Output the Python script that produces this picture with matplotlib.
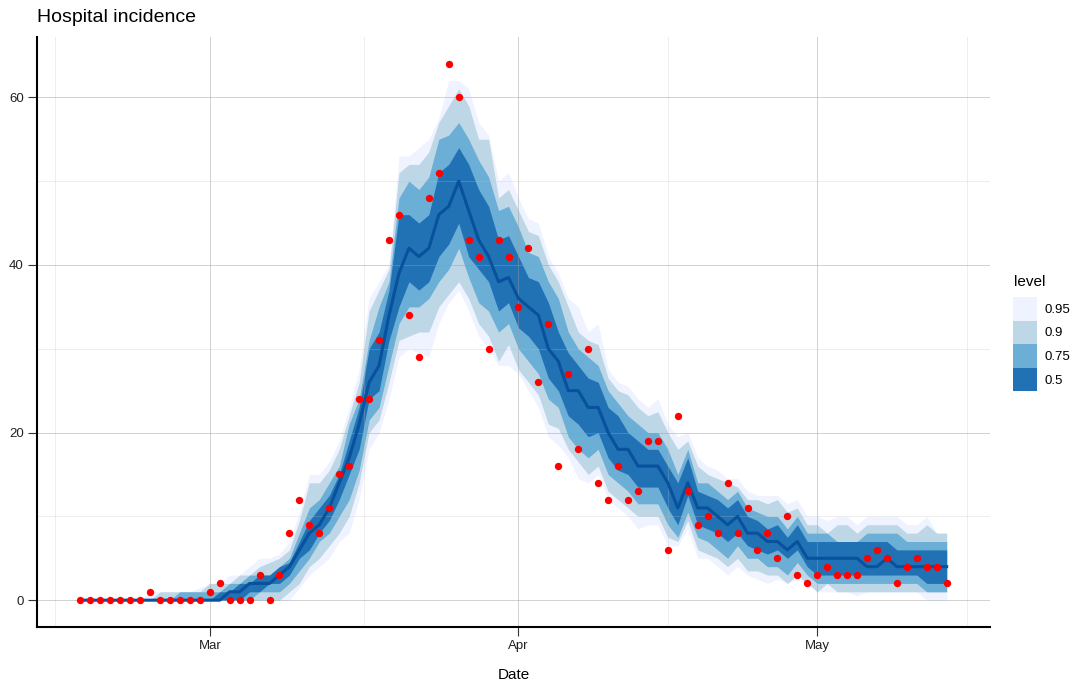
import matplotlib
matplotlib.use('Agg')
import matplotlib.pyplot as plt
import matplotlib.dates as mdates
from matplotlib.patches import Patch
import numpy as np
import pandas as pd

plt.rcParams['font.family'] = ['Liberation Sans', 'DejaVu Sans']

# daily observed hospital admissions
obs = [0, 0, 0, 0, 0, 0, 0, 1, 0, 0,
       0, 0, 0, 1, 2, 0, 0, 0, 3, 0,
       3, 8, 12, 9, 8, 11, 15, 16, 24, 24,
       31, 43, 46, 34, 29, 48, 51, 64, 60, 43,
       41, 30, 43, 41, 35, 42, 26, 33, 16, 27,
       18, 30, 14, 12, 16, 12, 13, 19, 19, 6,
       22, 13, 9, 10, 8, 14, 8, 11, 6, 8,
       5, 10, 3, 2, 3, 4, 3, 3, 3, 5,
       6, 5, 2, 4, 5, 4, 4, 2]

# forecast median and interval bounds
median = [0, 0, 0, 0, 0, 0, 0, 0, 0, 0,
          0, 0, 0, 0, 0, 1, 1, 2, 2, 2,
          3, 4, 6, 8, 9, 11, 14, 17, 21, 26,
          28, 34, 39, 42, 41, 42, 46, 47, 50, 46.5,
          43, 41, 38, 38.5, 36, 35, 34, 30, 28.5, 25,
          25, 23, 23, 20, 18, 18, 16, 16, 16, 14,
          11, 14, 11, 11, 10, 9, 10, 8, 8, 7,
          7, 6, 7, 5, 5, 5, 5, 5, 5, 4,
          4, 5, 4, 4, 4, 4, 4, 4]

lo50 = [0, 0, 0, 0, 0, 0, 0, 0, 0, 0,
        0, 0, 0, 0, 0, 0, 0, 1, 1, 2,
        2, 3, 5, 6, 8, 9.5, 12, 15, 18, 24,
        25, 31, 35, 38, 37, 38, 41, 42.5, 45, 41,
        39.5, 38, 34.5, 35.5, 32.5, 31.5, 30, 26.5, 25, 22,
        21, 19.5, 20, 17, 15.5, 15, 13.5, 13.5, 13.5, 11,
        9, 12.5, 9, 8.5, 8, 7, 8, 6.5, 6, 5.5,
        6, 5, 6, 4, 3, 3, 3, 3, 3, 3,
        3, 3, 3, 3, 3, 2, 2, 2]
hi50 = [0, 0, 0, 0, 0, 0, 0, 0, 0, 0,
        0, 0, 0, 0, 1, 1, 2, 2, 3, 3,
        4, 4.5, 7, 9.5, 11, 12.5, 15, 19, 23, 30,
        32, 37, 46, 46, 45, 46, 51, 52, 54, 52,
        49, 47, 43, 43.5, 41, 38.5, 38, 35.5, 32, 29.5,
        28, 26.5, 26, 23, 22, 20, 19, 18, 18, 16,
        14, 17, 13, 12.5, 12, 11, 12, 10, 9.5, 8.5,
        9, 7.5, 9, 7, 7, 7, 7, 7, 7, 7,
        7, 7, 6, 6, 6, 6, 6, 6]

lo75 = [0, 0, 0, 0, 0, 0, 0, 0, 0, 0,
        0, 0, 0, 0, 0, 0, 0, 0, 1, 1,
        1, 2, 3.5, 5, 7, 8, 10, 12, 15.5, 21.5,
        23, 28, 33, 35, 35, 36, 38, 39.5, 42, 38.5,
        35.5, 34.5, 32, 33, 30, 28.5, 27, 24, 23, 19.5,
        18, 17, 18, 15, 14, 13, 11.5, 11.5, 11.5, 9,
        7.5, 10.5, 7.5, 7, 6, 5, 6.5, 5, 5, 4,
        4, 3, 4.5, 3, 2, 2, 2, 2, 2, 2,
        2, 2, 2, 2, 2, 1, 1, 1]
hi75 = [0, 0, 0, 0, 0, 0, 0, 0, 0, 0,
        1, 1, 1, 1, 1, 2, 2, 3, 3, 3,
        4, 5, 8, 11, 12, 14, 16, 21, 24, 31,
        35, 38, 48, 50, 49, 50.5, 55, 55.5, 57, 55,
        52.5, 50.5, 46.5, 47, 44.5, 41.5, 41, 38, 36, 32,
        30, 29, 28, 25, 23.5, 22, 21, 20, 20, 18,
        15, 18, 14, 14, 13, 12, 13, 11, 10.5, 10,
        10, 8.5, 10, 8, 8, 8, 7, 7, 7, 8,
        8, 8, 8, 7, 7, 7, 7, 7]

lo90 = [0, 0, 0, 0, 0, 0, 0, 0, 0, 0,
        0, 0, 0, 0, 0, 0, 0, 0, 0, 0,
        0, 1, 2, 4, 5, 6.5, 8, 10, 14, 20,
        21.5, 26, 31, 31.5, 32, 32, 35, 36.5, 38, 36,
        33, 31.5, 28.5, 30.5, 27.5, 26, 24.5, 21, 20.5, 18,
        16.5, 15, 16, 13, 12, 11, 10, 10, 10, 7.5,
        7, 9.5, 6, 5.5, 5, 4, 5, 3.5, 3.5, 3,
        3, 2, 3, 2, 1, 2, 1, 1, 1, 1,
        1, 1, 1, 1, 1, 1, 1, 1]
hi90 = [0, 0, 0, 0, 0, 0, 0, 0, 1, 1,
        1, 1, 1, 2, 2, 2, 3, 3, 4, 4.5,
        5, 6, 9.5, 14, 14, 15.5, 18, 22, 26, 34.5,
        37, 39.5, 51, 52, 52, 53.5, 57, 59, 61, 59,
        55, 55, 48, 49, 46.5, 44, 43.5, 40, 38, 35,
        32, 31, 30.5, 26.5, 25, 24.5, 23, 22, 22.5, 20,
        18, 19, 16, 15, 14.5, 14, 13.5, 12, 12, 11.5,
        12, 10.5, 11, 9, 9, 8, 9, 9, 8, 9,
        9, 9, 9, 8, 8, 9, 8, 8]

lo95 = [0, 0, 0, 0, 0, 0, 0, 0, 0, 0,
        0, 0, 0, 0, 0, 0, 0, 0, 0, 0,
        0, 0, 1.5, 3, 4, 5, 7, 8, 12, 18,
        20, 24, 29, 30, 29.5, 29, 33, 35.5, 37, 34.5,
        31.5, 30, 28, 28, 27, 25, 23, 19.5, 18.5, 17,
        14.5, 14, 15, 12, 11, 10, 8.5, 9, 9, 6.5,
        6.5, 8.5, 5, 5, 4, 3, 4, 3, 2.5, 2,
        2.5, 2, 2.5, 2, 1, 1, 1, 1, 0.5, 1,
        1, 1, 1, 1, 1, 0, 0, 0]
hi95 = [0, 0, 0, 0, 0, 0, 0, 1, 1, 1,
        1, 1, 1.5, 2, 2, 3, 3, 4, 5, 5,
        5.5, 7, 10.5, 15, 15, 16.5, 19, 23, 27.5, 36,
        38, 40, 53, 53, 54, 55, 57.5, 62, 62, 61,
        57, 55.5, 50, 51, 48, 45.5, 45, 41, 39, 36,
        35, 32, 33, 27.5, 26, 25.5, 24, 23, 24, 21,
        19.5, 20, 17, 16, 15.5, 14.5, 14.5, 13, 12.5, 12.5,
        12.5, 11.5, 12, 10, 10, 9.5, 10, 10, 9, 10,
        10, 10, 10, 9, 9, 10, 8, 8]

dates = pd.date_range('2020-02-17', periods=len(obs), freq='D')

levels = ['0.95', '0.9', '0.75', '0.5']
colors = ['#EFF3FF', '#BDD7E7', '#6BAED6', '#2171B5']
bounds = [(lo95, hi95), (lo90, hi90), (lo75, hi75), (lo50, hi50)]

fig = plt.figure(figsize=(10.76, 6.86), dpi=100)
ax = fig.add_axes([37 / 1076, 59 / 686, 953 / 1076, 590 / 686])

for (lo, hi), c in zip(bounds, colors):
    ax.fill_between(dates, lo, hi, color=c, linewidth=0, zorder=1)

ax.plot(dates, median, color='#08519C', lw=2.2, zorder=2.5)
ax.scatter(dates, obs, s=28, color='red', linewidths=0, zorder=3)

# axes ranges (ggplot style 5% expansion)
pad = pd.Timedelta(days=4.35)
ax.set_xlim(dates[0] - pad, dates[-1] + pad)
ax.set_ylim(-3.2, 67.2)

ax.xaxis.set_major_locator(mdates.MonthLocator())
ax.xaxis.set_major_formatter(mdates.DateFormatter('%b'))
month_starts = pd.to_datetime(['2020-03-01', '2020-04-01', '2020-05-01'])
minor_x = [month_starts[0] - (month_starts[1] - month_starts[0]) / 2,
           month_starts[0] + (month_starts[1] - month_starts[0]) / 2,
           month_starts[1] + (month_starts[2] - month_starts[1]) / 2,
           month_starts[2] + (month_starts[2] - month_starts[1]) / 2]
ax.set_xticks(minor_x, minor=True)
ax.set_yticks([0, 20, 40, 60])
ax.set_yticks([10, 30, 50], minor=True)

ax.set_axisbelow('line')
ax.grid(which='major', color='#9a9a9a', alpha=0.45, lw=0.7)
ax.grid(which='minor', color='#c0c0c0', alpha=0.3, lw=0.6)

for s in ['top', 'right']:
    ax.spines[s].set_visible(False)
for s in ['left', 'bottom']:
    ax.spines[s].set_linewidth(1.5)
    ax.spines[s].set_color('black')

ax.tick_params(which='major', length=6.5, width=0.8, color='#333333',
               labelsize=9.5, labelcolor='#222222', pad=3)
ax.tick_params(which='minor', length=0)

fig.text(37 / 1076, 1 - 18 / 686, 'Hospital incidence', fontsize=14,
         ha='left', va='center')
fig.text(513.5 / 1076, 1 - 675 / 686, 'Date', fontsize=11,
         ha='center', va='center')

# legend: title placed separately so the key block sits like ggplot's
fig.text(1014 / 1076, 1 - 282 / 686, 'level', fontsize=11,
         ha='left', va='center')
handles = [Patch(facecolor=c, edgecolor='none', label=l)
           for c, l in zip(colors, levels)]
fig.legend(handles=handles, loc='upper left',
           bbox_to_anchor=(1013 / 1076, 1 - 297 / 686), frameon=False,
           fontsize=9.5, handlelength=1.8,
           handleheight=2.37, labelspacing=0, handletextpad=0.6,
           borderpad=0, borderaxespad=0)

fig.savefig('out.png', dpi=100)
